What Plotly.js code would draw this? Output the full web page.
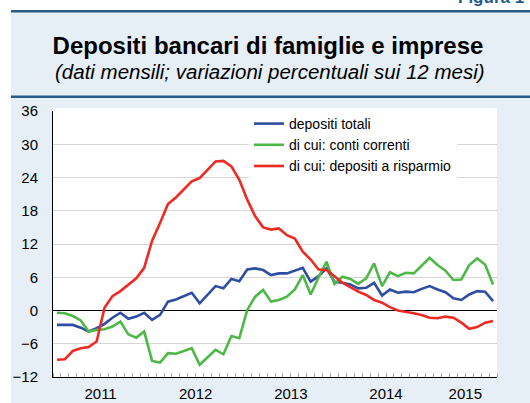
<!DOCTYPE html>
<html>
<head>
<meta charset="utf-8">
<script src="https://cdn.plot.ly/plotly-3.0.1.min.js"></script>
<style>
  html, body { margin: 0; padding: 0; background: #ffffff; }
  #chart { width: 530px; height: 403px; }
</style>
</head>
<body>
<div id="chart"></div>
<script>
// ---- data ----
const months = [
  "2011-01","2011-02","2011-03","2011-04","2011-05","2011-06","2011-07","2011-08","2011-09","2011-10","2011-11","2011-12",
  "2012-01","2012-02","2012-03","2012-04","2012-05","2012-06","2012-07","2012-08","2012-09","2012-10","2012-11","2012-12",
  "2013-01","2013-02","2013-03","2013-04","2013-05","2013-06","2013-07","2013-08","2013-09","2013-10","2013-11","2013-12",
  "2014-01","2014-02","2014-03","2014-04","2014-05","2014-06","2014-07","2014-08","2014-09","2014-10","2014-11","2014-12",
  "2015-01","2015-02","2015-03","2015-04","2015-05","2015-06","2015-07","2015-08"
];
const depositiTotali = [
  -2.6,-2.6,-2.6,-3.1,-3.8,-3.2,-2.4,-1.3,-0.4,-1.5,-1.1,-0.4,
  -1.7,-0.8,1.6,2.0,2.6,3.2,1.3,2.9,4.4,4.0,5.7,5.3,
  7.4,7.6,7.3,6.4,6.7,6.7,7.2,7.7,5.2,6.2,7.6,5.2,
  5.0,4.7,4.0,4.1,5.0,2.7,3.8,3.2,3.4,3.3,3.9,4.4,
  3.8,3.3,2.2,1.9,2.9,3.5,3.4,1.7
];
const contiCorrenti = [
  -0.4,-0.5,-1.0,-1.8,-3.8,-3.5,-3.4,-2.9,-2.0,-4.3,-4.9,-3.8,
  -9.1,-9.4,-7.7,-7.8,-7.3,-6.8,-9.8,-8.5,-7.1,-7.9,-4.6,-5.0,
  0.1,2.5,3.7,1.6,1.9,2.5,3.8,6.4,2.9,6.0,8.8,4.8,
  6.1,5.7,4.8,5.8,8.5,4.4,6.9,6.2,6.8,6.7,8.1,9.5,
  8.2,7.2,5.5,5.6,8.2,9.4,8.3,4.7
];
const depositiRisparmio = [
  -8.9,-8.8,-7.3,-6.8,-6.6,-5.6,0.5,2.6,3.5,4.7,5.8,7.7,
  12.6,15.8,19.2,20.4,21.8,23.3,23.9,25.4,26.9,27.0,26.0,23.6,
  20.0,17.0,15.0,14.6,14.8,13.6,13.0,10.6,9.2,7.4,7.3,6.2,
  5.0,4.2,3.4,2.8,1.9,1.4,0.6,0.0,-0.2,-0.5,-0.8,-1.3,
  -1.4,-1.1,-1.3,-2.2,-3.3,-3.0,-2.2,-1.9
];
const seriesNames = ["depositi totali", "di cui: conti correnti", "di cui: depositi a risparmio"];
const yTicks = [-12, -6, 0, 6, 12, 18, 24, 30, 36];
const titleText = "Depositi bancari di famiglie e imprese";
const subtitleText = "(dati mensili; variazioni percentuali sui 12 mesi)";
const figureLabel = "Figura 1";

// ---- derived positions (category-like index axis) ----
const xIdx = months.map((m, i) => i);
const years = [...new Set(months.map(m => m.slice(0, 4)))];
const yearCenters = years.map(y => {
  const idx = xIdx.filter(i => months[i].startsWith(y));
  return (idx[0] + idx[idx.length - 1]) / 2;
});
const yearBounds = xIdx.filter(i => i > 0 && months[i].slice(0, 4) !== months[i - 1].slice(0, 4)).map(i => i - 0.5);
const xRange = [-0.5, months.length - 0.5];
const yRange = [yTicks[0], yTicks[yTicks.length - 1]];

const FONT = "Liberation Sans, Arial, sans-serif";
const colors = ["#2f4ea2", "#4db848", "#ee2a24"];

const traces = [depositiTotali, contiCorrenti, depositiRisparmio].map((vals, k) => ({
  type: "scatter",
  mode: "lines",
  x: xIdx,
  y: vals,
  text: months,
  name: seriesNames[k],
  line: { color: colors[k], width: 2.6 },
  hovertemplate: "%{text}: %{y}<extra></extra>"
}));

// layout geometry (pixels -> paper)
const W = 530, H = 403, L = 53, R = 33, T = 111, B = 26;
const pw = W - L - R, ph = H - T - B;
const px = v => (v - L) / pw;
const py = v => (H - B - v) / ph;

const panel = "#e6eef6";
const dark = "#245b88";

const layout = {
  width: W, height: H,
  margin: { l: L, r: R, t: T, b: B, pad: 0 },
  paper_bgcolor: panel,
  plot_bgcolor: "#ffffff",
  font: { family: FONT, size: 15, color: "#000000" },
  showlegend: true,
  title: {
    text: "<b>" + titleText + "</b>",
    x: 268 / W, xanchor: "center",
    y: 1 - 46 / H, yanchor: "middle",
    font: { family: FONT, size: 24, color: "#000000" }
  },
  xaxis: {
    range: xRange,
    tickmode: "array",
    tickvals: yearCenters,
    ticktext: years,
    showgrid: false,
    zeroline: false,
    showline: true, linecolor: "#000000", linewidth: 1,
    ticks: "",
    ticklabelstandoff: 3,
    tickfont: { family: FONT, size: 15, color: "#000000" },
    minor: { tickmode: "linear", tick0: -0.5, dtick: 1, ticks: "inside", ticklen: 4, tickcolor: "#a6a6a6", tickwidth: 1, showgrid: false },
    fixedrange: true
  },
  xaxis2: {
    overlaying: "x", anchor: "y", side: "bottom",
    range: xRange,
    tickmode: "array",
    tickvals: yearBounds,
    showticklabels: false,
    ticks: "",
    showgrid: true, gridcolor: "#d2d2d2", gridwidth: 1,
    zeroline: false, showline: false,
    fixedrange: true
  },
  yaxis: {
    range: yRange,
    tickmode: "array",
    tickvals: yTicks,
    showgrid: true, gridcolor: "#d6d6d6", gridwidth: 1,
    zeroline: true, zerolinecolor: "#000000", zerolinewidth: 1,
    showline: true, linecolor: "#000000", linewidth: 1,
    ticks: "",
    ticklabelstandoff: 11,
    tickfont: { family: FONT, size: 15, color: "#000000" },
    fixedrange: true
  },
  yaxis2: {
    overlaying: "y", side: "right", anchor: "x",
    range: yRange,
    tickmode: "array",
    tickvals: yTicks,
    showgrid: false, zeroline: false,
    showline: true, linecolor: "#000000", linewidth: 1,
    ticks: "",
    ticklabelstandoff: 17,
    tickfont: { family: FONT, size: 15, color: "#000000" },
    fixedrange: true
  },
  legend: {
    x: px(249), xanchor: "left",
    y: py(108), yanchor: "top",
    bgcolor: "#ffffff",
    borderwidth: 0,
    font: { family: FONT, size: 14, color: "#000000" },
    tracegroupgap: 0
  },
  shapes: [
    { type: "rect", xref: "paper", yref: "paper", x0: -0.3, x1: 1.3, y0: py(10), y1: 1.8, fillcolor: "#ffffff", line: { width: 0 }, layer: "below" },
    { type: "rect", xref: "paper", yref: "paper", x0: -0.3, x1: px(11), y0: -0.3, y1: 1.8, fillcolor: "#ffffff", line: { width: 0 }, layer: "below" },
    { type: "rect", xref: "paper", yref: "paper", x0: 0, x1: 1, y0: py(111), y1: py(108), fillcolor: "#ffffff", line: { width: 0 }, layer: "below" },
    { type: "line", xref: "paper", yref: "paper", x0: px(11), x1: 1.3, y0: py(11.2), y1: py(11.2), line: { color: dark, width: 2.5 } },
    { type: "line", xref: "paper", yref: "paper", x0: px(11), x1: 1.3, y0: py(96.8), y1: py(96.8), line: { color: dark, width: 2.5 } }
  ],
  annotations: [
    { xref: "paper", yref: "paper", x: px(270), y: py(72), xanchor: "center", yanchor: "middle",
      text: "<i>" + subtitleText + "</i>", showarrow: false,
      font: { family: FONT, size: 20.5, color: "#000000" } },
    { xref: "paper", yref: "paper", x: px(456), y: py(9), xanchor: "left", yanchor: "bottom",
      text: "<b>" + figureLabel + "</b>", showarrow: false,
      font: { family: FONT, size: 17, color: dark } }
  ]
};

Plotly.newPlot("chart", traces, layout, { displayModeBar: false, staticPlot: true });
</script>
</body>
</html>
